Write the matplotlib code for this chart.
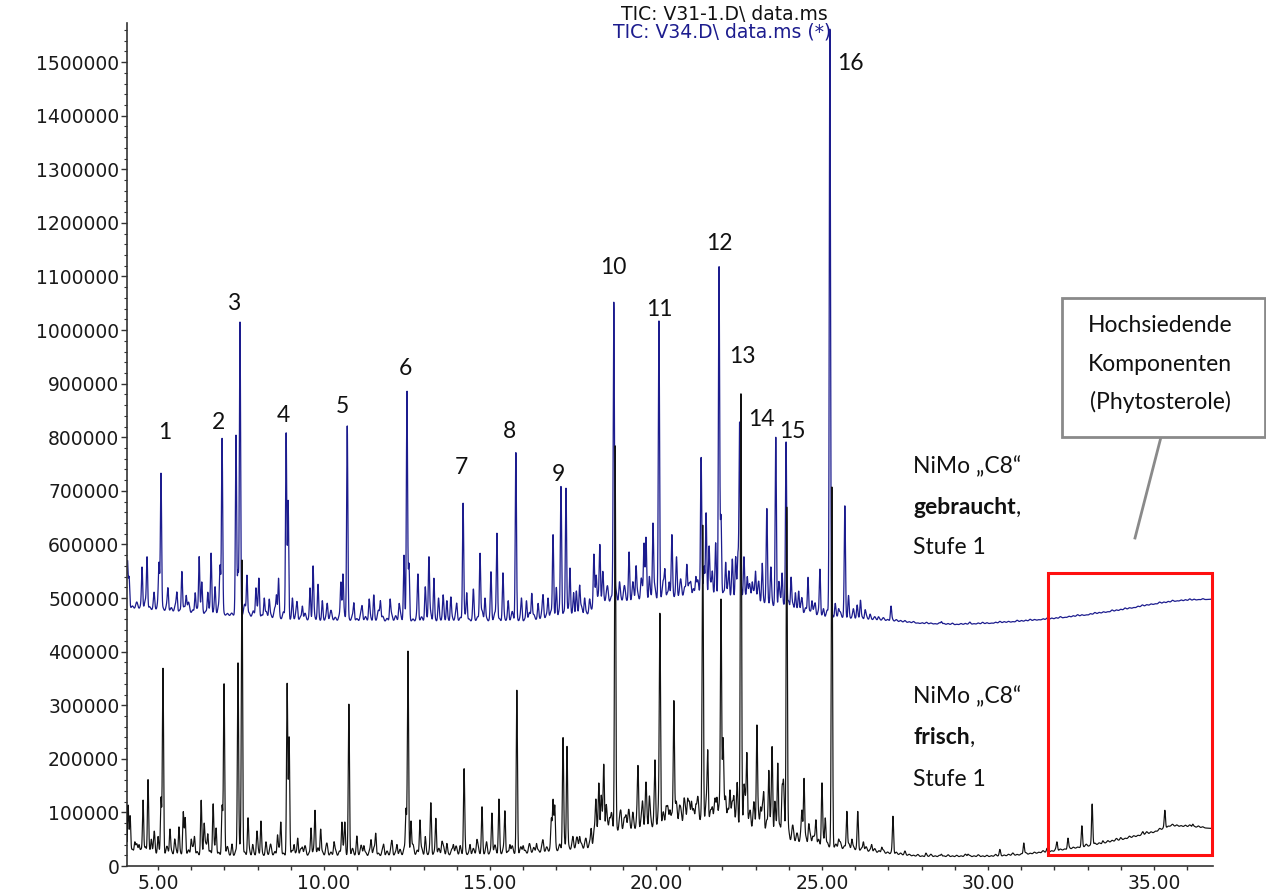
import numpy as np
import matplotlib
matplotlib.use("Agg")
import matplotlib.pyplot as plt
from matplotlib.patches import Rectangle
from matplotlib.lines import Line2D
from matplotlib.ticker import MultipleLocator, FuncFormatter

# ---------------- data (retention time in min, abundance) ----------------
# baseline knots
blue_base_t = [4.07, 4.5, 6.0, 7.5, 9.0, 12.0, 16.0, 17.0, 18.0, 18.2, 20.0, 21.0, 22.0, 23.0,
               24.0, 25.0, 26.0, 27.0, 28.0, 29.0, 30.0, 31.0, 32.0, 33.0, 34.0, 35.0, 35.7, 36.78]
blue_base_v = [480000, 478000, 470000, 465000, 457000, 455000, 455000, 462000, 468000, 488000,
               493000, 500000, 496000, 490000, 473000, 463000, 460000, 457000, 452000, 450000,
               452000, 456000, 461000, 468000, 477000, 488000, 494000, 498000]

black_base_t = [4.07, 4.5, 6.0, 8.0, 12.0, 16.0, 17.5, 18.1, 18.2, 19.0, 20.0, 21.0, 22.0, 23.0,
                24.0, 25.0, 26.0, 27.0, 28.0, 30.0, 31.0, 32.0, 33.0, 34.0, 35.0, 35.5, 36.0, 36.78]
black_base_v = [25000, 20000, 18000, 17000, 17000, 20000, 28000, 30000, 55000, 60000, 65000,
                75000, 75000, 60000, 42000, 33000, 28000, 22000, 17000, 17000, 20000, 27000,
                36000, 48000, 62000, 74000, 73000, 70000]

# peaks of the used catalyst trace (V34, blue): apex time, apex abundance
blue_peak_t = [4.08, 4.13, 4.52, 4.67, 4.88, 5.03, 5.09, 5.30, 5.57, 5.72, 5.85, 6.12, 6.24, 6.32,
               6.50, 6.60, 6.72, 6.87, 6.93, 7.35, 7.41, 7.47, 7.68, 7.95, 8.04, 8.20, 8.35, 8.57,
               8.63, 8.86, 8.92, 9.05, 9.19, 9.35, 9.58, 9.67, 9.82, 9.95, 10.10, 10.51, 10.57,
               10.70, 10.90, 11.15, 11.36, 11.50, 11.70, 11.99, 12.26, 12.41, 12.50, 12.56, 12.83,
               13.05, 13.16, 13.31, 13.45, 13.59, 13.70, 13.82, 14.00, 14.19, 14.30, 14.50, 14.70,
               14.85, 15.03, 15.21, 15.39, 15.55, 15.78, 15.95, 16.10, 16.26, 16.45, 16.60, 16.75,
               16.90, 17.00, 17.14, 17.29, 17.41, 17.52, 17.60, 17.70, 17.85, 18.00, 18.13, 18.20,
               18.31, 18.40, 18.55, 18.73, 18.90, 19.05, 19.19, 19.30, 19.40, 19.55, 19.64, 19.70,
               19.80, 19.91, 20.09, 20.27, 20.40, 20.48, 20.62, 20.75, 20.93, 21.05, 21.20, 21.36,
               21.45, 21.51, 21.60, 21.70, 21.80, 21.90, 21.96, 22.10, 22.20, 22.30, 22.40, 22.47,
               22.52, 22.65, 22.75, 22.90, 23.00, 23.10, 23.20, 23.34, 23.46, 23.61, 23.70, 23.80,
               23.92, 24.07, 24.20, 24.30, 24.40, 24.58, 24.70, 24.80, 24.94, 25.05, 25.24, 25.40,
               25.50, 25.69, 25.80, 25.95, 26.06, 26.16, 26.30, 26.45, 26.70, 27.08, 27.50, 28.60,
               29.46]
blue_peak_v = [570000, 540000, 558000, 577000, 511000, 567000, 733000, 519000, 511000, 550000,
               505000, 510000, 578000, 530000, 511000, 584000, 521000, 562000, 798000, 804000,
               552000, 1015000, 543000, 519000, 537000, 500000, 498000, 506000, 537000, 810000,
               683000, 500000, 493000, 485000, 519000, 560000, 526000, 495000, 490000, 530000,
               545000, 823000, 491000, 485000, 498000, 506000, 495000, 498000, 489000, 580000,
               888000, 565000, 545000, 521000, 577000, 537000, 500000, 506000, 495000, 502000,
               490000, 677000, 510000, 517000, 584000, 500000, 549000, 621000, 547000, 495000,
               773000, 500000, 495000, 509000, 490000, 506000, 500000, 619000, 520000, 709000,
               705000, 556000, 510000, 513000, 524000, 500000, 498000, 582000, 543000, 600000,
               550000, 520000, 1052000, 530000, 520000, 586000, 530000, 560000, 535000, 603000,
               614000, 540000, 640000, 1017000, 554000, 530000, 619000, 577000, 535000, 563000,
               530000, 540000, 763000, 560000, 659000, 597000, 550000, 603000, 1121000, 655000,
               567000, 550000, 573000, 577000, 586000, 830000, 577000, 540000, 530000, 550000,
               530000, 565000, 668000, 558000, 800000, 530000, 547000, 793000, 539000, 510000,
               513000, 500000, 539000, 495000, 490000, 554000, 480000, 1568000, 490000, 480000,
               672000, 505000, 480000, 487000, 496000, 478000, 470000, 465000, 485000, 458000,
               456000, 455000]

# peaks of the fresh catalyst trace (V31-1, black)
black_peak_t = [4.10, 4.16, 4.30, 4.43, 4.55, 4.70, 4.80, 4.89, 5.00, 5.09, 5.15, 5.36, 5.50, 5.63,
                5.76, 5.82, 6.00, 6.10, 6.30, 6.39, 6.50, 6.66, 6.75, 6.93, 6.99, 7.10, 7.23, 7.41,
                7.44, 7.53, 7.71, 7.85, 7.98, 8.10, 8.25, 8.40, 8.60, 8.70, 8.89, 8.95, 9.10, 9.21,
                9.35, 9.61, 9.73, 9.90, 10.10, 10.30, 10.54, 10.63, 10.75, 10.99, 11.20, 11.42,
                11.56, 11.80, 12.05, 12.20, 12.47, 12.53, 12.62, 12.89, 13.05, 13.22, 13.37, 13.55,
                13.70, 13.90, 14.10, 14.22, 14.40, 14.60, 14.76, 14.90, 15.06, 15.27, 15.45, 15.60,
                15.81, 16.00, 16.20, 16.40, 16.60, 16.85, 16.90, 16.95, 17.20, 17.32, 17.50, 17.70,
                17.90, 18.05, 18.19, 18.28, 18.35, 18.43, 18.50, 18.60, 18.77, 18.95, 19.10, 19.30,
                19.46, 19.60, 19.70, 19.80, 19.97, 20.12, 20.30, 20.42, 20.54, 20.70, 20.84, 20.95,
                21.07, 21.20, 21.41, 21.56, 21.70, 21.84, 21.96, 22.02, 22.10, 22.23, 22.35, 22.45,
                22.56, 22.65, 22.74, 22.85, 22.95, 23.04, 23.15, 23.25, 23.40, 23.50, 23.58, 23.67,
                23.80, 23.84, 23.94, 24.10, 24.25, 24.40, 24.46, 24.60, 24.72, 24.82, 25.00, 25.10,
                25.30, 25.50, 25.75, 25.90, 26.08, 26.25, 26.50, 26.80, 27.14, 27.50, 28.13, 28.60,
                29.40, 30.36, 31.08, 31.78, 32.08, 32.41, 32.83, 33.14, 33.46, 34.00, 34.67, 35.33,
                36.17]
black_peak_v = [114000, 94000, 45000, 40000, 123000, 162000, 50000, 65000, 55000, 129000, 369000,
                69000, 50000, 73000, 101000, 90000, 50000, 55000, 123000, 80000, 60000, 116000,
                71000, 114000, 340000, 35000, 41000, 379000, 114000, 571000, 90000, 40000, 65000,
                84000, 45000, 40000, 58000, 82000, 341000, 241000, 40000, 52000, 35000, 71000,
                104000, 69000, 40000, 45000, 82000, 82000, 302000, 56000, 38000, 49000, 61000,
                40000, 47000, 40000, 108000, 401000, 84000, 86000, 55000, 118000, 89000, 45000,
                42000, 40000, 38000, 182000, 40000, 48000, 111000, 45000, 99000, 125000, 103000,
                40000, 328000, 38000, 40000, 42000, 48000, 90000, 125000, 114000, 240000, 224000,
                55000, 55000, 50000, 70000, 125000, 155000, 132000, 190000, 114000, 90000, 784000,
                100000, 95000, 100000, 187000, 120000, 157000, 130000, 198000, 472000, 110000,
                105000, 310000, 110000, 123000, 125000, 121000, 115000, 636000, 216000, 110000,
                128000, 500000, 239000, 130000, 142000, 130000, 155000, 886000, 150000, 211000,
                100000, 120000, 263000, 110000, 136000, 179000, 222000, 120000, 192000, 150000,
                162000, 673000, 71000, 60000, 104000, 164000, 78000, 55000, 86000, 155000, 90000,
                711000, 50000, 102000, 50000, 102000, 45000, 40000, 35000, 93000, 28000, 24000,
                22000, 22000, 31000, 43000, 33000, 45000, 52000, 75000, 116000, 47000, 53000,
                64000, 104000, 78000]

# small noise spikes (amplitude above baseline, in thousands), every 0.13 min from 4.10 min
blue_noise_k = [10, 6, 14, 9, 18, 7, 12, 20, 8, 15,
                9, 16, 6, 13, 22, 8, 11, 17, 7, 14,
                12, 19, 8, 5, 6, 15, 10, 24, 9, 13,
                18, 7, 14, 10, 22, 8, 16, 6, 12, 20,
                9, 15, 7, 18, 11, 6, 14, 21, 8, 13,
                17, 9, 12, 6, 19, 10, 15, 8, 22, 11,
                7, 16, 12, 20, 9, 14, 6, 18, 10, 15,
                21, 8, 13, 17, 7, 11, 19, 9, 14, 6,
                16, 10, 22, 8, 13, 18, 7, 15, 11, 20,
                9, 14, 6, 17, 12, 8, 21, 10, 15, 7,
                18, 11, 16, 8, 13, 19, 9, 14, 25, 17,
                22, 30, 14, 26, 18, 33, 12, 28, 20, 35,
                24, 16, 30, 21, 38, 15, 27, 19, 32, 22,
                28, 18, 35, 24, 15, 30, 21, 40, 17, 26,
                33, 20, 27, 14, 36, 22, 29, 18, 31, 25,
                16, 28, 12, 22, 18, 10, 20, 14, 9, 17,
                12, 8, 15, 10, 7, 13, 9, 6, 11, 8,
                6, 9, 5, 7, 4, 6, 3, 5, 4, 3,
                3, 2, 3, 1, 2, 3, 2, 1, 3, 2,
                2, 3, 1, 2, 2, 3, 1, 2, 3, 2,
                1, 2, 3, 2, 2, 1, 3, 2, 2, 3,
                2, 1, 2, 3, 2, 2, 3, 1, 2, 2,
                3, 2, 1, 2, 3, 2, 2, 1, 3, 2,
                2, 3, 2, 1, 2, 3, 2, 2, 1, 3,
                2, 2, 3, 1, 2, 2, 3, 2, 1, 2]
black_noise_k = [14, 8, 20, 11, 16, 9, 22, 12, 7, 18,
                 10, 15, 8, 21, 12, 17, 9, 14, 24, 11,
                 16, 8, 13, 19, 7, 12, 22, 9, 15, 10,
                 18, 8, 14, 23, 10, 16, 7, 19, 12, 9,
                 15, 21, 8, 13, 17, 10, 24, 9, 14, 11,
                 19, 8, 16, 12, 22, 9, 13, 18, 7, 15,
                 11, 20, 9, 14, 17, 8, 23, 12, 16, 10,
                 18, 9, 15, 21, 8, 13, 19, 11, 16, 7,
                 14, 22, 10, 17, 9, 20, 12, 15, 8, 18,
                 11, 16, 9, 21, 13, 8, 19, 12, 17, 10,
                 15, 22, 12, 18, 26, 14, 20, 16, 30, 24,
                 35, 28, 42, 25, 38, 30, 45, 27, 40, 33,
                 48, 30, 40, 52, 34, 44, 28, 50, 37, 42,
                 46, 32, 55, 38, 48, 30, 52, 40, 58, 35,
                 50, 38, 45, 60, 35, 48, 42, 55, 32, 46,
                 38, 30, 42, 26, 35, 22, 30, 18, 25, 20,
                 16, 22, 12, 18, 10, 15, 8, 13, 9, 11,
                 7, 10, 6, 8, 5, 7, 4, 6, 5, 4,
                 4, 3, 2, 4, 2, 3, 5, 2, 3, 2,
                 4, 2, 3, 2, 5, 3, 2, 4, 2, 3,
                 2, 4, 3, 2, 3, 5, 2, 3, 4, 2,
                 3, 2, 4, 3, 2, 5, 3, 2, 4, 3,
                 2, 3, 5, 2, 4, 3, 2, 4, 3, 5,
                 3, 2, 4, 3, 2, 4, 5, 3, 2, 4,
                 3, 2, 4, 3, 2, 3, 4, 2, 3, 2]

peak_numbers = [str(i) for i in range(1, 17)]
label_t = [5.21, 6.81, 7.29, 8.77, 10.54, 12.44, 14.13, 15.60, 17.05, 18.71, 20.09, 21.90,
           22.59, 23.16, 24.10, 25.87]
label_v = [809700, 828400, 1050400, 841400, 858200, 929100, 744400, 811600, 731300, 1117500,
           1039200, 1162300, 951500, 834000, 811600, 1498100]

x_ticks = [5, 10, 15, 20, 25, 30, 35]
y_ticks = list(range(0, 1500001, 100000))

# ---------------- build traces ----------------
t = np.arange(4.066, 36.78, 0.004)
noise_t = 4.10 + 0.13 * np.arange(len(blue_noise_k))


def gauss(x, c, s):
    return np.exp(-0.5 * ((x - c) / s) ** 2)


def trace(base_t, base_v, pk_t, pk_v, noise_k, s_pk=0.018, s_n=0.032):
    pk_t = np.asarray(pk_t, float)
    pk_v = np.asarray(pk_v, float)
    nk = np.asarray(noise_k, float) * 1000.0
    base_pk = np.interp(pk_t, base_t, base_v)
    noise_at_pk = (nk[None, :] * gauss(pk_t[:, None], noise_t[None, :], s_n)).sum(1)
    G = gauss(pk_t[:, None], pk_t[None, :], s_pk)
    amp = np.clip(pk_v - base_pk, 0, None)
    for _ in range(30):  # make the apexes land on the read values
        others = G @ amp - amp
        amp = np.clip(pk_v - base_pk - noise_at_pk - others, 0, None)
    y = np.interp(t, base_t, base_v)
    for tp, a in zip(pk_t, amp):
        y += a * gauss(t, tp, s_pk)
    for tn, a in zip(noise_t, nk):
        y += a * gauss(t, tn, s_n)
    return y


y_blue = trace(blue_base_t, blue_base_v, blue_peak_t, blue_peak_v, blue_noise_k)
y_black = trace(black_base_t, black_base_v, black_peak_t, black_peak_v, black_noise_k)

# ---------------- figure ----------------
W, H = 1266, 892
fig = plt.figure(figsize=(W / 100, H / 100), dpi=100)


def fx(px):
    return px / W


def fy(py):
    return 1 - py / H


ax = fig.add_axes([fx(127), fy(866), fx(1213) - fx(127), fy(23) - fy(866)])
ax.plot(t, y_blue, color="#1c1c8e", lw=0.9, zorder=2)
ax.plot(t, y_black, color="#111111", lw=0.85, zorder=3)
ax.set_xlim(4.066, 36.78)
ax.set_ylim(0, 1573000)

for s in ("top", "right"):
    ax.spines[s].set_visible(False)
for s in ("left", "bottom"):
    ax.spines[s].set_color("#333333")
    ax.spines[s].set_linewidth(1.2)

ax.set_xticks(x_ticks)
ax.xaxis.set_major_formatter(FuncFormatter(lambda v, p: f"{v:.2f}"))
ax.xaxis.set_minor_locator(MultipleLocator(1))
ax.set_yticks(y_ticks)
ax.yaxis.set_major_formatter(FuncFormatter(lambda v, p: f"{int(v)}"))
ax.yaxis.set_minor_locator(MultipleLocator(20000))

tsize = 13.5
tick_font = dict(family="DejaVu Sans", size=tsize)
ax.tick_params(axis="y", which="major", direction="out", length=4.5, width=1, pad=1,
               colors="#333333", labelcolor="#1a1a1a", labelsize=tsize)
ax.tick_params(axis="y", which="minor", direction="out", length=2.2, width=0.8, colors="#333333")
ax.tick_params(axis="x", which="both", direction="out", length=3, width=1, pad=2.5,
               colors="#333333", labelcolor="#1a1a1a", labelsize=tsize)
for lab in ax.get_xticklabels() + ax.get_yticklabels():
    lab.set_fontfamily("DejaVu Sans")

# titles
fig.text(fx(828), fy(15), "TIC: V31-1.D\\ data.ms", ha="right", va="center",
         color="#111111", **tick_font)
fig.text(fx(831), fy(32), "TIC: V34.D\\ data.ms (*)", ha="right", va="center",
         color="#1c1c8e", **tick_font)

# peak numbers
lab_font = dict(family=["Lato", "DejaVu Sans"], size=16.5, color="#111111")
for s, lt, lv in zip(peak_numbers, label_t, label_v):
    ax.text(lt, lv, s, ha="center", va="center", **lab_font)


# sample descriptions
def sample_label(y1, y2, y3, word):
    fig.text(fx(913), fy(y1), "NiMo \u201eC8\u201c", ha="left", va="center", **lab_font)
    tb = fig.text(fx(913), fy(y2), word, ha="left", va="center", weight="bold", **lab_font)
    fig.canvas.draw()
    bb = tb.get_window_extent()
    fig.text(bb.x1 / W, bb.y0 / H, ",", ha="left", va="bottom", **lab_font)
    fig.text(fx(913), fy(y3), "Stufe 1", ha="left", va="center", **lab_font)


sample_label(467, 508, 548, "gebraucht")
sample_label(697, 738, 780, "frisch")

# callout box
fig.add_artist(Line2D([fx(1161), fx(1135)], [fy(437), fy(538)], color="#8a8a8a", lw=2))
fig.add_artist(Rectangle((fx(1062), fy(437)), fx(1265) - fx(1062), fy(298) - fy(437),
                         facecolor="white", edgecolor="#8a8a8a", lw=2, zorder=5))
for txt, py in (("Hochsiedende", 325), ("Komponenten", 364), ("(Phytosterole)", 402)):
    fig.text(fx(1160), fy(py), txt, ha="center", va="center", zorder=6, **lab_font)

# red highlight rectangle
fig.add_artist(Rectangle((fx(1048), fy(855)), fx(1212) - fx(1048), fy(573) - fy(855),
                         facecolor="none", edgecolor="#ff1010", lw=2.2, zorder=6))

fig.savefig("out.png", dpi=100)
